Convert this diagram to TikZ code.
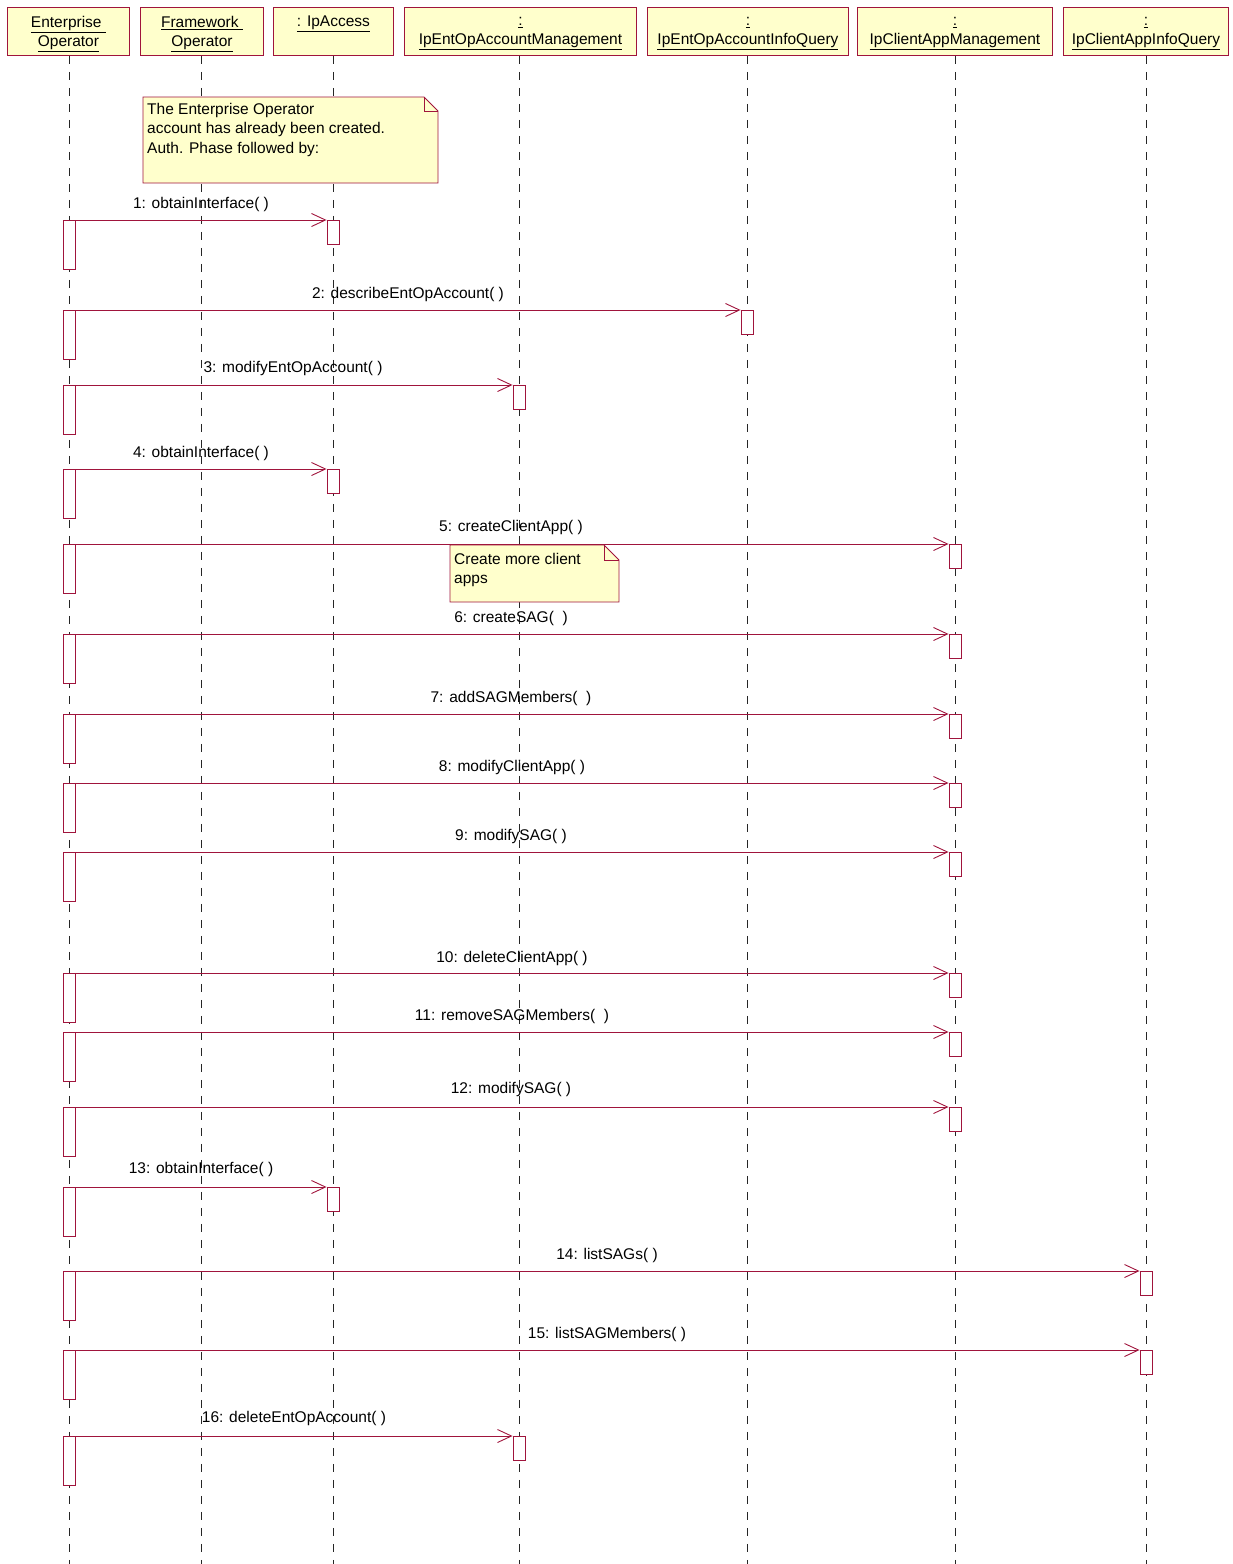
\documentclass[tikz,border=0pt]{standalone}
\usepackage{fontspec}
\setmainfont{Liberation Sans}
\usetikzlibrary{arrows.meta}
\definecolor{uline}{HTML}{A0143C}
\definecolor{ufill}{HTML}{FFFFCC}
\begin{document}
\begin{tikzpicture}[x=1pt,y=-1pt,
  hdr/.style={draw=uline, fill=ufill, line width=0.9pt, inner sep=0pt, minimum height=48pt, anchor=north west},
  hdrtext/.style={align=center, font=\fontsize{15.5}{19}\selectfont, inner sep=0pt, yshift=-2.5pt},
  act/.style={draw=uline, fill=white, line width=0.9pt, minimum width=12pt, inner sep=0pt, anchor=north},
  life/.style={dash pattern=on 8pt off 8pt, line width=0.9pt, black!85},
  msg/.style={draw=uline, line width=0.9pt, -{Straight Barb[length=14pt,width=13pt,line width=0.9pt]}},
  lbl/.style={font=\fontsize{15.5}{17}\selectfont, inner sep=0pt, yshift=-2pt},
  notebox/.style={draw=uline, fill=ufill, line width=0.9pt, line join=miter},
  notetext/.style={font=\fontsize{15.5}{19.5}\selectfont, inner sep=0pt, anchor=north west, align=left}
]
\useasboundingbox (0,0) rectangle (1233,1564);
% headers
\node[hdr, minimum width=122pt] (h1) at (7,7) {};
\node[hdr, minimum width=123pt] (h2) at (140,7) {};
\node[hdr, minimum width=120pt] (h3) at (273,7) {};
\node[hdr, minimum width=232pt] (h4) at (404,7) {};
\node[hdr, minimum width=201pt] (h5) at (647,7) {};
\node[hdr, minimum width=195pt] (h6) at (857,7) {};
\node[hdr, minimum width=165pt] (h7) at (1063,7) {};
\node[hdrtext] (ht1) at (h1.center) {\underline{Enterprise }\\\underline{Operator}};
\node[hdrtext] (ht2) at (h2.center) {\underline{Framework }\\\underline{Operator}};
\node[hdrtext] (ht3) at (h3.center) {\underline{: IpAccess}\\\strut};
\node[hdrtext] (ht4) at (h4.center) {\underline{:}\\\underline{IpEntOpAccountManagement}};
\node[hdrtext] (ht5) at (h5.center) {\underline{:}\\\underline{IpEntOpAccountInfoQuery}};
\node[hdrtext] (ht6) at (h6.center) {\underline{:}\\\underline{IpClientAppManagement}};
\node[hdrtext] (ht7) at (h7.center) {\underline{:}\\\underline{IpClientAppInfoQuery}};
% lifelines
\foreach \h/\x in {1/69,2/201,3/333,4/519,5/747,6/955,7/1146}{
  \coordinate (e\h) at (\x,1564);
  \draw[life] (e\h |- h\h.south) -- (e\h);
}
% notes
\draw[notebox] (143,97) -- (424,97) -- (438,111) -- (438,183) -- (143,183) -- cycle;
\draw[uline, line width=0.9pt] (424,97) -- (424,111) -- (438,111);
\node[notetext] (n1) at (147,103) {The Enterprise Operator\\account has already been created.\\Auth. Phase followed by:};
\draw[notebox] (450,545) -- (604,545) -- (619,560) -- (619,602) -- (450,602) -- cycle;
\draw[uline, line width=0.9pt] (604,545) -- (604,560) -- (619,560);
\node[notetext] (n2) at (454,553) {Create more client\\apps};
% messages
\foreach \n/\y/\tx/\lx/\ly/\lab in {
 1/220/333/201/202/{1: obtainInterface( )},
 2/310/747/408/292/{2: describeEntOpAccount( )},
 3/385/519/293/366/{3: modifyEntOpAccount( )},
 4/469/333/201/451/{4: obtainInterface( )},
 5/544/955/511/525/{5: createClientApp( )},
 6/634/955/511/616/{6: createSAG(\ \ )},
 7/714/955/511/696/{7: addSAGMembers(\ \ )},
 8/783/955/512/765/{8: modifyClientApp( )},
 9/852/955/511/834/{9: modifySAG( )},
 10/973/955/512/956/{10: deleteClientApp( )},
 11/1032/955/512/1014/{11: removeSAGMembers(\ \ )},
 12/1107/955/511/1087/{12: modifySAG( )},
 13/1187/333/201/1167/{13: obtainInterface( )},
 14/1271/1146/607/1253/{14: listSAGs( )},
 15/1350/1146/607/1332/{15: listSAGMembers( )},
 16/1436/519/294/1416/{16: deleteEntOpAccount( )}}
{
  \node[act, minimum height=49pt] (s\n) at (69,\y) {};
  \node[act, minimum height=24pt] (t\n) at (\tx,\y) {};
  \draw[msg] (s\n.north east) -- (t\n.north west);
  \node[lbl] (l\n) at (\lx,\ly) {\lab};
}
\end{tikzpicture}
\end{document}
